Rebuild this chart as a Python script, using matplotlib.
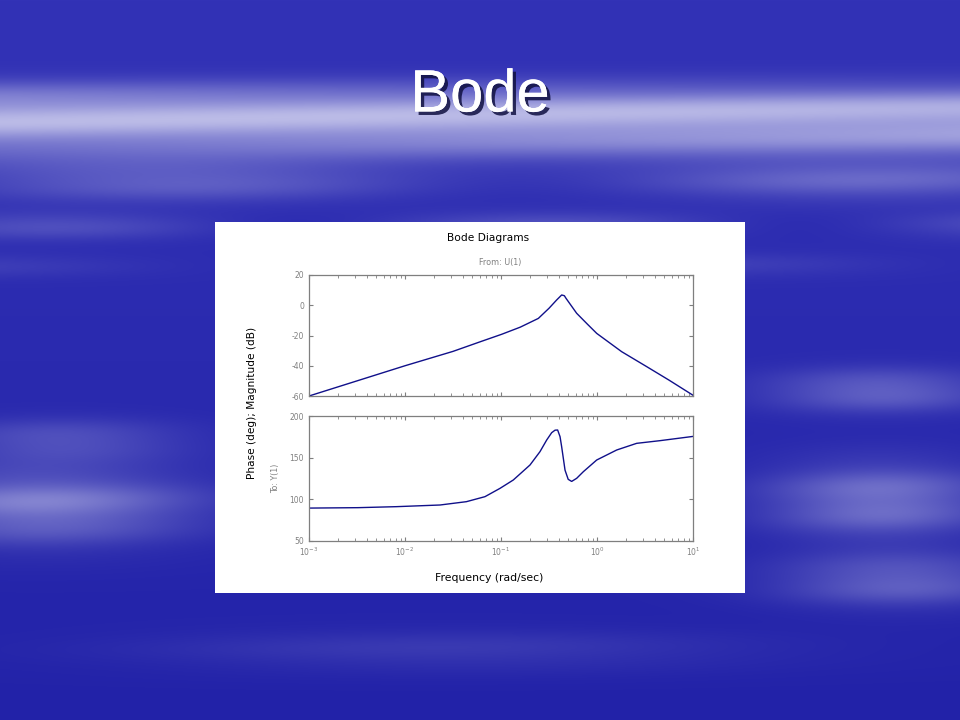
import numpy as np
import matplotlib
matplotlib.use("Agg")
import matplotlib.pyplot as plt
from matplotlib.patches import Rectangle
import matplotlib.patheffects as pe

# ---- data ----
mag_freq = [1e-3, 10**-2.5, 1e-2, 10**-1.5, 10**-1.219, 10**-0.993, 10**-0.8, 10**-0.611,
            10**-0.5, 10**-0.42, 10**-0.368, 10**-0.34, 10**-0.323, 10**-0.212, 10**-0.1,
            10**-0.003, 10**0.257, 10**0.518, 10**0.75, 10.0]
mag_db = [-60.0, -50.0, -40.0, -30.5, -24.2, -19.2, -14.5, -8.7, -2.0, 3.5, 6.8, 6.3, 4.6,
          -5.3, -12.5, -18.6, -30.7, -40.6, -49.5, -59.5]

phase_freq = [1e-3, 10**-2.49, 10**-2.09, 10**-1.635, 10**-1.36, 10**-1.167, 10**-1.01,
              10**-0.872, 10**-0.698, 10**-0.594, 10**-0.524, 10**-0.472, 10**-0.437,
              10**-0.41, 10**-0.385, 10**-0.368, 10**-0.333, 10**-0.30, 10**-0.264,
              10**-0.212, 10**-0.142, 10**-0.003, 10**0.205, 10**0.413, 10**0.656, 10.0]
phase_deg = [89.5, 90.0, 91.2, 93.2, 97.2, 103.2, 113.2, 123.2, 141.2, 157.2, 171.2,
             180.0, 183.0, 183.2, 175.2, 163.0, 135.0, 124.0, 121.5, 125.2, 133.2, 147.2,
             159.2, 167.2, 170.4, 175.5]

mag_ticks = [-60, -40, -20, 0, 20]
phase_ticks = [50, 100, 150, 200]
freq_ticks = [1e-3, 1e-2, 1e-1, 1e0, 1e1]

W, H = 960, 720
fig = plt.figure(figsize=(9.6, 7.2), dpi=100)

# ---- slide background (deterministic gradient + soft cloud bands) ----
yy, xx = np.mgrid[0:H, 0:W].astype(float)
base_top = np.array([50, 50, 182.0])
base_bot = np.array([34, 34, 168.0])
t = (yy / H)[..., None]
img = base_top * (1 - t) + base_bot * t
cloud = np.array([228, 228, 246.0])

def band(yc, sy, amp):
    return amp * np.exp(-((yy - yc) / sy) ** 2)

w = band(125, 30, 0.72)
w += band(100, 18, 0.25)
w += band(180, 20, 0.30) * (0.55 + 0.45 * np.sin(xx / 110.0))
w += band(225, 14, 0.20) * (0.5 + 0.5 * np.sin(xx / 80.0 + 1.0))
w += band(265, 12, 0.12) * (0.5 + 0.5 * np.sin(xx / 120.0 + 2.5))
# lower side clouds
w += 0.50 * np.exp(-((yy - 505) / 35) ** 2 - ((xx - 40) / 150) ** 2)
w += 0.25 * np.exp(-((yy - 440) / 20) ** 2 - ((xx - 60) / 120) ** 2)
w += 0.35 * np.exp(-((yy - 390) / 20) ** 2 - ((xx - 880) / 110) ** 2)
w += 0.45 * np.exp(-((yy - 500) / 35) ** 2 - ((xx - 880) / 110) ** 2)
w += 0.35 * np.exp(-((yy - 580) / 25) ** 2 - ((xx - 900) / 120) ** 2)
w += 0.12 * np.exp(-((yy - 650) / 20) ** 2 - ((xx - 450) / 300) ** 2)
w *= (0.9 + 0.1 * np.sin(yy / 6.0 + xx / 300.0))
w = np.clip(w, 0, 0.85)[..., None]
img = img * (1 - w) + cloud * w
img = np.clip(img, 0, 255).astype(np.uint8)

bg = fig.add_axes([0, 0, 1, 1])
bg.imshow(img, extent=[0, W, H, 0], aspect='auto', interpolation='bilinear')
bg.set_xlim(0, W)
bg.set_ylim(H, 0)
bg.axis('off')

# white picture box
bg.add_patch(Rectangle((215, 222), 530, 371, facecolor='white', edgecolor='none'))

# slide title
bg.text(480, 96, "Bode", ha='center', va='center', fontsize=43, color='white',
        family='Liberation Sans',
        path_effects=[pe.withSimplePatchShadow(offset=(2.5, -2.5), shadow_rgbFace='#101040', alpha=0.85),
                      pe.Normal()])

# texts on the picture
bg.text(488, 238, "Bode Diagrams", ha='center', va='center', fontsize=7.7, color='black')
bg.text(500, 263, "From: U(1)", ha='center', va='center', fontsize=5.8, color='#808080')
bg.text(252, 403, "Phase (deg); Magnitude (dB)", ha='center', va='center', fontsize=7.6,
        rotation=90, color='black')
bg.text(276, 478, "To: Y(1)", ha='center', va='center', fontsize=5.8, rotation=90, color='#808080')
bg.text(489, 578, "Frequency (rad/sec)", ha='center', va='center', fontsize=7.8, color='black')

gray = '#7f7f7f'
line_col = '#10108a'

def style(ax):
    ax.set_xscale('log')
    ax.set_xlim(1e-3, 1e1)
    for s in ax.spines.values():
        s.set_color(gray)
        s.set_linewidth(0.9)
    ax.tick_params(which='both', direction='in', top=True, right=True, colors=gray,
                   labelsize=5.5, labelcolor='#808080')
    ax.tick_params(which='major', length=3)
    ax.tick_params(which='minor', length=2)
    ax.set_facecolor('white')

ax1 = fig.add_axes([309 / W, 1 - 396 / H, 384 / W, 121 / H])
ax1.plot(mag_freq, mag_db, color=line_col, lw=1.0)
style(ax1)
ax1.set_ylim(-60, 20)
ax1.set_yticks(mag_ticks)
ax1.set_yticklabels([str(v) for v in mag_ticks])
ax1.set_xticks(freq_ticks)
ax1.tick_params(axis='x', which='both', labelbottom=False)

ax2 = fig.add_axes([309 / W, 1 - 541 / H, 384 / W, 125 / H])
ax2.plot(phase_freq, phase_deg, color=line_col, lw=1.0)
style(ax2)
ax2.set_ylim(50, 200)
ax2.set_yticks(phase_ticks)
ax2.set_xticks(freq_ticks)

fig.savefig("out.png", dpi=100)
